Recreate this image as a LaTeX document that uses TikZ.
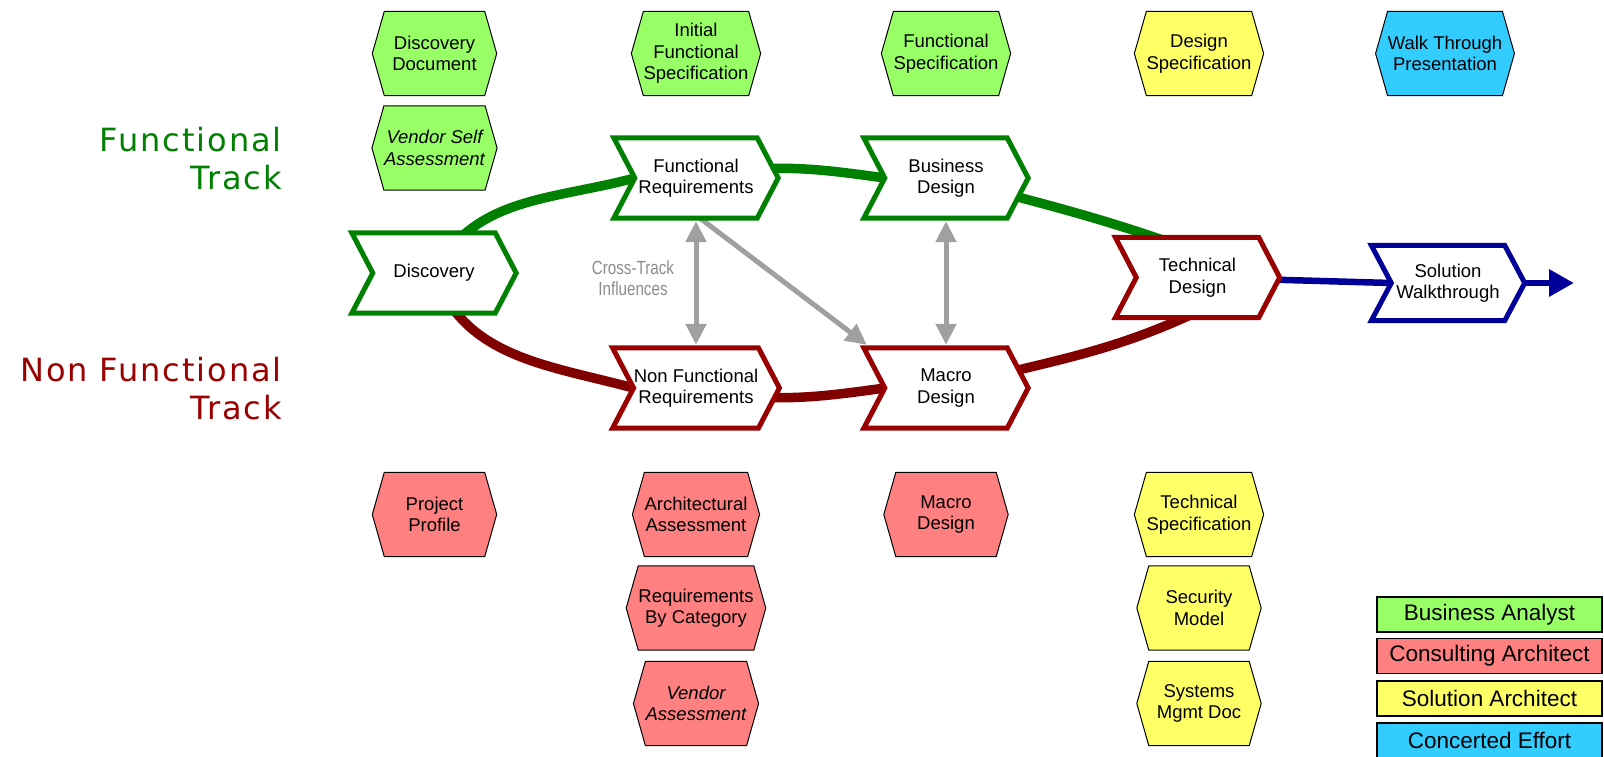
\documentclass[tikz,border=0pt]{standalone}
\usepackage{fontspec}
\setmainfont{Liberation Sans}
\newfontfamily\trackfont[LetterSpace=6]{DejaVu Sans}
\newfontfamily\narrowfont[FakeStretch=0.8]{Liberation Sans}
\usetikzlibrary{calc,arrows.meta}
\pgfdeclarelayer{back}\pgfdeclarelayer{mid}\pgfsetlayers{back,mid,main}
\definecolor{trkgreen}{HTML}{008000}
\definecolor{trkred}{HTML}{990000}
\definecolor{arcred}{HTML}{800000}
\definecolor{navyblue}{HTML}{000099}
\definecolor{crossgrey}{HTML}{A0A0A0}
\definecolor{crosstext}{HTML}{8C8C8C}
\definecolor{hexgreen}{HTML}{99FF66}
\definecolor{hexred}{HTML}{FF8080}
\definecolor{hexyellow}{HTML}{FFFF66}
\definecolor{hexblue}{HTML}{33CCFF}
\tikzset{
  chevtext/.style={inner sep=0pt, minimum width=122pt, minimum height=80pt, align=center, font=\fontsize{18.5}{21.5}\selectfont},
  chevline/.style={line width=5pt, fill=white, line join=miter},
  hextext/.style={inner sep=0pt, minimum width=100pt, minimum height=84pt, align=center, font=\fontsize{18.5}{21.5}\selectfont},
  hexit/.style={hextext, font=\fontsize{18.5}{21.5}\selectfont\itshape},
  hexline/.style={line width=1pt, draw=black},
  trackline/.style={line width=9.5pt},
  cross/.style={draw=crossgrey, line width=5pt},
  crosshead/.style={-{Triangle[length=21pt,width=20pt]}},
  crossboth/.style={{Triangle[length=21pt,width=20pt]}-{Triangle[length=21pt,width=20pt]}, shorten <=3pt, shorten >=3pt},
  legendbox/.style={draw=black, line width=1.2pt, minimum width=225pt, minimum height=35pt, inner sep=0pt, font=\fontsize{22.5}{26}\selectfont},
  tracklabel/.style={inner sep=0pt, align=right, anchor=east, font=\trackfont\fontsize{32}{38}\selectfont},
}
\newcommand\chevshape[3]{%
  \begin{pgfonlayer}{mid}
  \draw[chevline, draw=#2] ($(#1.north west)+(-#3,0)$) -- (#1.north east) -- ($(#1.east)+(#3,0)$) -- (#1.south east) -- ($(#1.south west)+(-#3,0)$) -- (#1.west) -- cycle;
  \end{pgfonlayer}}
\newcommand\hexshape[3]{%
  \begin{pgfonlayer}{mid}
  \draw[hexline, fill=#2] (#1.north west) -- (#1.north east) -- ($(#1.east)+(#3,0)$) -- (#1.south east) -- (#1.south west) -- ($(#1.west)+(-#3,0)$) -- cycle;
  \end{pgfonlayer}}
\begin{document}
\begin{tikzpicture}[x=1pt,y=-1pt]
\useasboundingbox (0,0) rectangle (1604,756);

% track labels
\node[tracklabel, text=trkgreen] (ftrack) at (282,159) {Functional\\Track};
\node[tracklabel, text=trkred] (nftrack) at (282,389) {Non Functional\\Track};

% chevrons
\node[chevtext] (disc) at (434,273) {Discovery}; \chevshape{disc}{trkgreen}{21}
\node[chevtext] (fr) at (696,178) {Functional\\Requirements}; \chevshape{fr}{trkgreen}{21}
\node[chevtext] (bd) at (946,178) {Business\\Design}; \chevshape{bd}{trkgreen}{21}
\node[chevtext] (nfr) at (696,388) {Non Functional\\Requirements}; \chevshape{nfr}{trkred}{21}
\node[chevtext] (macro) at (946,388) {Macro\\Design}; \chevshape{macro}{trkred}{21}
\node[chevtext] (td) at (1197.5,277.5) {Technical\\Design}; \chevshape{td}{trkred}{21}
\node[chevtext, minimum width=113pt, minimum height=75pt] (sw) at (1448,283) {Solution\\Walkthrough}; \chevshape{sw}{navyblue}{20}
\coordinate (swend) at (1574,283);

% hexagons
\node[hextext] (h11) at (434.5,53.5) {Discovery\\Document}; \hexshape{h11}{hexgreen}{12}
\node[hexit] (h12) at (434.5,148) {Vendor Self\\Assessment}; \hexshape{h12}{hexgreen}{12}
\node[hextext] (h21) at (696,53.5) {Initial\\Functional\\Specification}; \hexshape{h21}{hexgreen}{12}
\node[hextext] (h31) at (946,53.5) {Functional\\Specification}; \hexshape{h31}{hexgreen}{12}
\node[hextext] (h41) at (1199,53.5) {Design\\Specification}; \hexshape{h41}{hexyellow}{12}
\node[hextext] (h51) at (1445,53.5) {Walk Through\\Presentation}; \hexshape{h51}{hexblue}{12}
\node[hextext] (h13) at (434.5,514.5) {Project\\Profile}; \hexshape{h13}{hexred}{12}
\node[hextext] (h23) at (696,514.5) {Architectural\\Assessment}; \hexshape{h23}{hexred}{12}
\node[hextext] (h24) at (696,608) {Requirements\\By Category}; \hexshape{h24}{hexred}{12}
\node[hexit] (h25) at (696,703.5) {Vendor\\Assessment}; \hexshape{h25}{hexred}{12}
\node[hextext] (h33) at (946,514.5) {Macro\\Design}; \hexshape{h33}{hexred}{12}
\node[hextext] (h43) at (1199,514.5) {Technical\\Specification}; \hexshape{h43}{hexyellow}{12}
\node[hextext] (h44) at (1199,608) {Security\\Model}; \hexshape{h44}{hexyellow}{12}
\node[hextext] (h45) at (1199,703.5) {Systems\\Mgmt Doc}; \hexshape{h45}{hexyellow}{12}

% cross-track label
\node[inner sep=0pt, align=center, text=crosstext, font=\narrowfont\fontsize{19}{21}\selectfont] (ctext) at (633,278) {Cross-Track\\Influences};

% legend
\node[legendbox, fill=hexgreen] (lg1) at (1489.5,614.5) {Business Analyst};
\node[legendbox, fill=hexred] (lg2) at (1489.5,656) {Consulting Architect};
\node[legendbox, fill=hexyellow] (lg3) at (1489.5,698.5) {Solution Architect};
\node[legendbox, fill=hexblue] (lg4) at (1489.5,740.5) {Concerted Effort};

% connectors
\begin{pgfonlayer}{back}
\draw[trackline, trkgreen] (disc.center) to[out=62,in=195] (fr.west);
\draw[trackline, trkgreen] (fr.center) to[out=12,in=172] (bd.west);
\draw[trackline, trkgreen] (bd.center) to[out=-15,in=160] ($(td.north)+(0,15)$);
\draw[trackline, arcred] (disc.center) to[out=-70,in=165] (nfr.west);
\draw[trackline, arcred] (nfr.center) to[out=-12,in=-172] (macro.west);
\draw[trackline, arcred] (macro.center) to[out=15,in=-155] ($(td.south)+(0,-6)$);
\draw[line width=6.5pt, navyblue] (td.center) -- (sw.west);
\draw[line width=6.5pt, navyblue, -{Triangle[length=25pt,width=26pt]}] (sw.center) -- (swend);
\draw[cross, crosshead] ($(fr.south)+(4,0)$) -- ($(macro.north west)+(-18,-3)$);
\end{pgfonlayer}
\draw[cross, crossboth] (fr.south) -- (nfr.north);
\draw[cross, crossboth] (bd.south) -- (macro.north);
\end{tikzpicture}
\end{document}
